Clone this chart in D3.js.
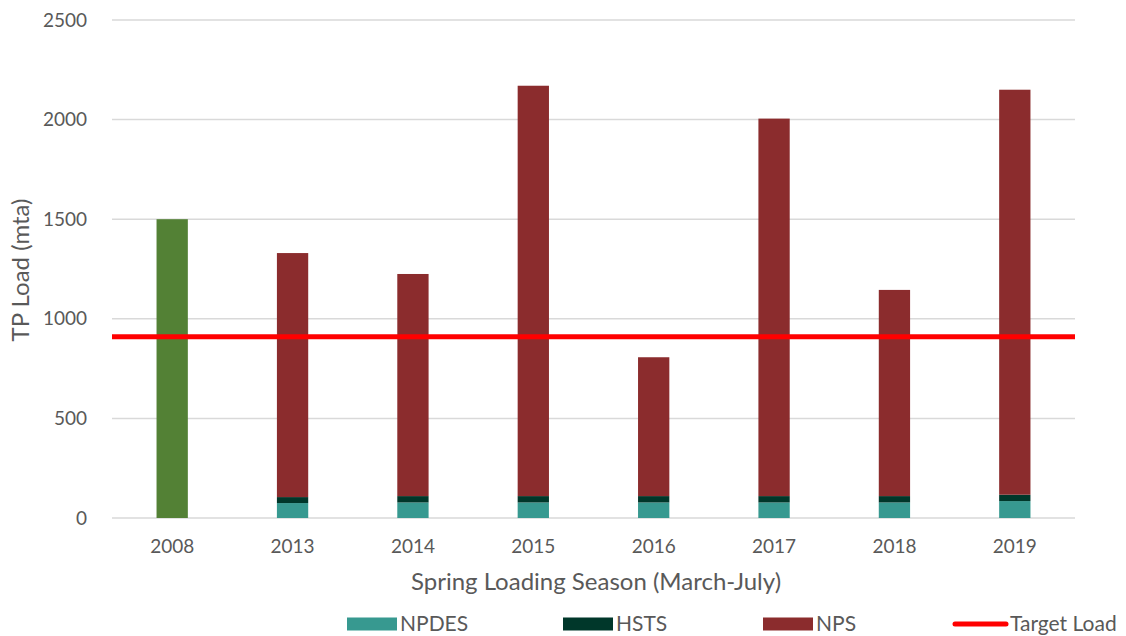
<!DOCTYPE html>
<html>
<head>
<meta charset="utf-8">
<script src="https://cdn.jsdelivr.net/npm/d3@7"></script>
<style>
  body { margin: 0; background: #fff; }
  text { font-family: Lato, "Open Sans", sans-serif; fill: #595959; }
</style>
</head>
<body>
<div id="chart"></div>
<script>
// data
var years = ["2008", "2013", "2014", "2015", "2016", "2017", "2018", "2019"];
var baseline = [1500, 0, 0, 0, 0, 0, 0, 0];          // 2008 green bar
var npdes = [0, 75, 78, 78, 78, 78, 78, 85];
var hsts = [0, 30, 32, 32, 32, 32, 32, 32];
var nps = [0, 1225, 1115, 2060, 697, 1895, 1035, 2033];
var targetLoad = 910;
var yTicks = [0, 500, 1000, 1500, 2000, 2500];

var svgWidth = 1126;
var svgHeight = 636;
var margin = { top: 20, right: 51, bottom: 118, left: 112 };
var width = svgWidth - margin.left - margin.right;
var height = svgHeight - margin.top - margin.bottom;

var svg = d3.select("#chart").append("svg")
  .attr("width", svgWidth)
  .attr("height", svgHeight);

var chartGroup = svg.append("g")
  .attr("transform", `translate(${margin.left}, ${margin.top})`);

var x = d3.scaleBand()
  .domain(years)
  .range([0, width])
  .paddingInner(0.74)
  .paddingOuter(0.37);

var y = d3.scaleLinear()
  .domain([0, 2500])
  .range([height, 0]);

// gridlines
chartGroup.selectAll(".grid")
  .data(yTicks)
  .enter()
  .append("line")
  .attr("x1", 0)
  .attr("x2", width)
  .attr("y1", d => y(d))
  .attr("y2", d => y(d))
  .attr("stroke", "#d9d9d9")
  .attr("stroke-width", 1.5);

// y axis labels
var yAxis = d3.axisLeft(y).tickValues(yTicks).tickFormat(d3.format("d")).tickSize(0).tickPadding(25);
chartGroup.append("g")
  .call(yAxis)
  .call(g => g.select(".domain").remove())
  .selectAll("text")
  .attr("font-size", 19)
  .style("fill", "#595959");

// x axis labels
var xAxis = d3.axisBottom(x).tickSize(0).tickPadding(22);
chartGroup.append("g")
  .attr("transform", `translate(0, ${height})`)
  .call(xAxis)
  .call(g => g.select(".domain").remove())
  .selectAll("text")
  .attr("font-size", 19)
  .style("fill", "#595959");

// stacked bars
var rows = years.map(function(yr, i) {
  return { year: yr, baseline: baseline[i], npdes: npdes[i], hsts: hsts[i], nps: nps[i] };
});
var keys = ["baseline", "npdes", "hsts", "nps"];
var colors = { baseline: "#538135", npdes: "#379990", hsts: "#00372a", nps: "#8b2c2d" };

var stacked = d3.stack().keys(keys)(rows);

chartGroup.selectAll(".series")
  .data(stacked)
  .enter()
  .append("g")
  .attr("fill", d => colors[d.key])
  .selectAll("rect")
  .data(d => d.filter(s => s[1] - s[0] > 0))
  .enter()
  .append("rect")
  .attr("x", d => x(d.data.year))
  .attr("width", x.bandwidth())
  .attr("y", d => y(d[1]))
  .attr("height", d => y(d[0]) - y(d[1]));

// target load
chartGroup.append("line")
  .attr("x1", 0)
  .attr("x2", width)
  .attr("y1", y(targetLoad))
  .attr("y2", y(targetLoad))
  .attr("stroke", "#ff0000")
  .attr("stroke-width", 5);

// axis titles
svg.append("text")
  .attr("transform", "translate(29, 270) rotate(-90)")
  .attr("text-anchor", "middle")
  .attr("font-size", 24)
  .text("TP Load (mta)");

svg.append("text")
  .attr("x", 596)
  .attr("y", 590)
  .attr("text-anchor", "middle")
  .attr("font-size", 24)
  .text("Spring Loading Season (March-July)");

// legend
var legend = [
  { name: "NPDES", color: colors.npdes, x: 347, type: "box" },
  { name: "HSTS", color: colors.hsts, x: 563, type: "box" },
  { name: "NPS", color: colors.nps, x: 763, type: "box" },
  { name: "Target Load", color: "#ff0000", x: 953, type: "line" }
];
var lg = svg.append("g").selectAll("g")
  .data(legend)
  .enter()
  .append("g")
  .attr("transform", d => `translate(${d.x}, 624)`);

lg.filter(d => d.type === "box").append("rect")
  .attr("x", 0).attr("y", -6.5)
  .attr("width", 50).attr("height", 13)
  .attr("fill", d => d.color);

lg.filter(d => d.type === "line").append("line")
  .attr("x1", 2).attr("x2", 53)
  .attr("y1", 0).attr("y2", 0)
  .attr("stroke", d => d.color)
  .attr("stroke-width", 5)
  .attr("stroke-linecap", "round");

lg.append("text")
  .attr("x", d => d.type === "line" ? 57 : 53)
  .attr("y", 0)
  .attr("dy", "0.35em")
  .attr("font-size", 21)
  .text(d => d.name);
</script>
</body>
</html>
